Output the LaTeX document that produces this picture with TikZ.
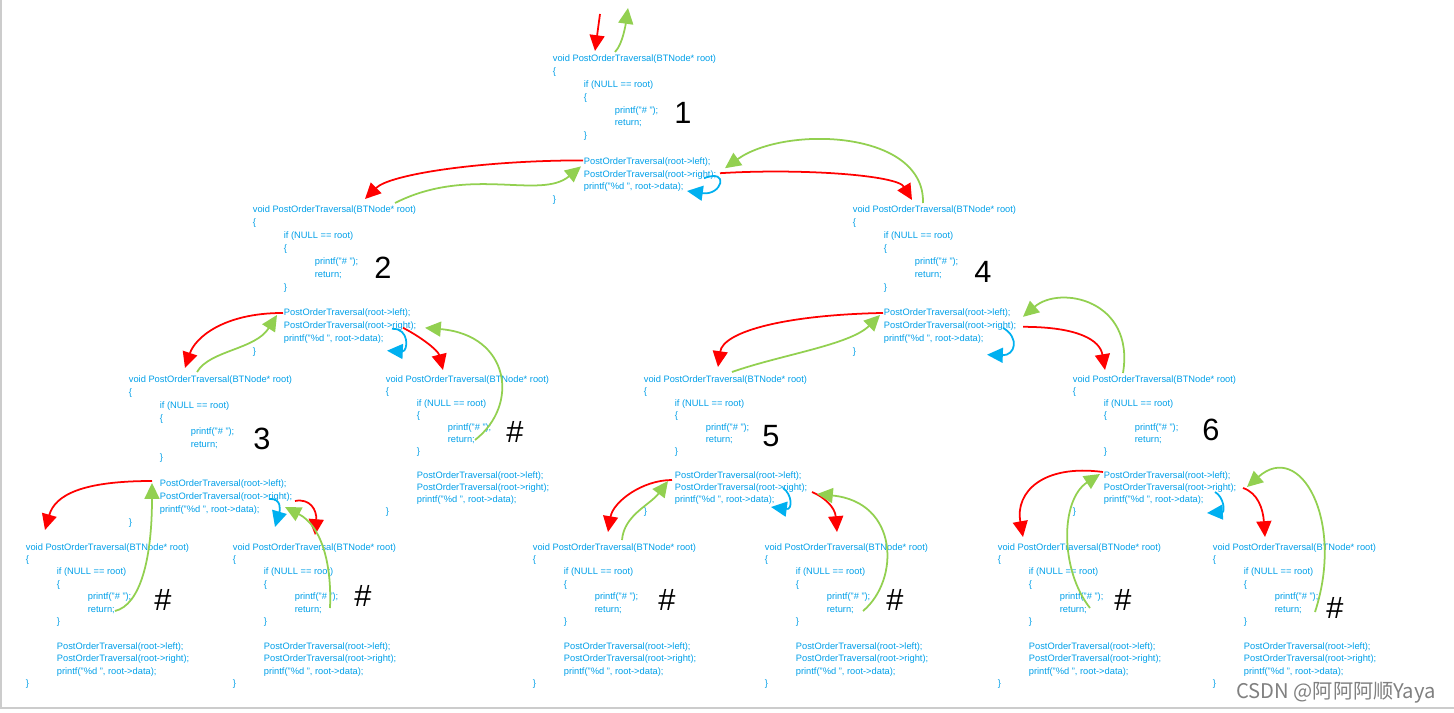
\documentclass[tikz,border=0pt]{standalone}
\usepackage{fontspec}
\setmainfont{Liberation Sans}
\newfontfamily\cjk{Noto Sans CJK SC}
\usetikzlibrary{arrows.meta,positioning}
\definecolor{codeblue}{RGB}{0,160,233}
\definecolor{callred}{RGB}{255,0,0}
\definecolor{retgreen}{RGB}{146,208,80}
\definecolor{printblue}{RGB}{0,176,240}
\tikzset{code/.style={anchor=base west, inner sep=0pt, text=codeblue,
                      font=\fontsize{5.3}{6}\selectfont},
num/.style={inner sep=0pt, font=\fontsize{17.5}{20}\selectfont},
callarr/.style={->, callred},
retarr/.style={->, retgreen},
printarr/.style={->, printblue}
}
% one call of PostOrderTraversal: name, x, y, line pitch
\newcommand{\codeblock}[4]{%
  \begin{scope}[shift={(#2,#3+3)}, yscale=#4]
    \node[code] (#1v)  at (0,0)   {void PostOrderTraversal(BTNode* root)};
    \node[code] (#1a)  at (0,1)   {\{};
    \node[code] (#1if) at (31,2)  {if (NULL == root)};
    \node[code] (#1b)  at (31,3)  {\{};
    \node[code] (#1pf) at (62,4)  {printf("\# ");};
    \node[code] (#1rt) at (62,5)  {return;};
    \node[code] (#1c)  at (31,6)  {\}};
    \node[code] (#1l)  at (31,8)  {PostOrderTraversal(root->left);};
    \node[code] (#1r)  at (31,9)  {PostOrderTraversal(root->right);};
    \node[code] (#1d)  at (31,10) {printf("\%d ", root->data);};
    \node[code] (#1e)  at (0,11)  {\}};
  \end{scope}}

\begin{document}
\begin{tikzpicture}[>={Triangle[length=9pt,width=8.5pt]}, x=0.02cm, y=-0.02cm, line width=1pt]
    \useasboundingbox (0,0) rectangle (1454,713);
    \fill[white] (0,0) rectangle (1454,713);
    \draw[gray!40, line width=0.6pt] (1,0) -- (1,708) -- (1454,708);

    \codeblock{b1}{552}{59}{12.8}
    \codeblock{b2}{252}{210}{12.87}
    \codeblock{b4}{852}{210}{12.87}
    \codeblock{b3}{128}{379}{13}
    \codeblock{bh}{385}{379}{12}
    \codeblock{b5}{643}{379}{12}
    \codeblock{b6}{1072}{379}{12}
    \codeblock{b3nl}{25}{547}{12.4}
    \codeblock{b3nr}{232}{547}{12.4}
    \codeblock{b5nl}{532}{547}{12.4}
    \codeblock{b5nr}{764}{547}{12.4}
    \codeblock{b6nl}{997}{547}{12.4}
    \codeblock{b6nr}{1212}{547}{12.4}

    \node[num] (one)   at (683,113) {1};
    \node[num] (two)   at (383,268) {2};
    \node[num] (three) at (262,439) {3};
    \node[num] (four)  at (983,272) {4};
    \node[num] (five)  at (771,436) {5};
    \node[num] (six)   at (1211,430) {6};
    \node[num] (h2)  at (515,432) {\#};
    \node[num] (h3l) at (163,600) {\#};
    \node[num] (h3r) at (363,596) {\#};
    \node[num] (h5l) at (667,600) {\#};
    \node[num] (h5r) at (895,600) {\#};
    \node[num] (h6l) at (1123,600) {\#};
    \node[num] (h6r) at (1335,608) {\#};

    \coordinate (b1in)  at (600,14);
    \coordinate (b1out) at (628,8);
    \draw[callarr] (b1in) -- ([shift={(43,-11)}]b1v.base west);
    \draw[retarr] ([shift={(63,-10)}]b1v.base west) .. controls +(8,-8) and +(-2,14) .. (b1out);

    % 1 and its children
    \draw[callarr] ([shift={(0,-4)}]b1l.base west) .. controls +(-100,0) and +(25,-25) .. ([shift={(113,-14)}]b2v.base west);
    \draw[retarr] ([shift={(143,-10)}]b2v.base west) .. controls +(75,-38) and +(-41,34) .. ([shift={(-2,2)}]b1l.base west);
    \draw[printarr] ([shift={(121,1)}]b1r.base west) .. controls +(26,-10) and +(35,5) .. ([shift={(104,1)}]b1d.base west);
    \draw[callarr] ([shift={(137,-4)}]b1r.base west) .. controls +(80,-5) and +(-15,-25) .. ([shift={(60,-13)}]b4v.base west);
    \draw[retarr] ([shift={(71,-10)}]b4v.base west) .. controls +(2,-73) and +(60,-43) .. ([shift={(142,-9)}]b1r.base west);

    % 2
    \draw[callarr] ([shift={(0,-3)}]b2l.base west) .. controls +(-60,0) and +(10,-30) .. ([shift={(57,-14)}]b3v.base west);
    \draw[retarr] ([shift={(69,-10)}]b3v.base west) .. controls +(13,-22) and +(-22,35) .. ([shift={(-6,-1)}]b2l.base west);
    \draw[printarr] ([shift={(109,0)}]b2r.base west) .. controls +(18,-1) and +(21,1) .. ([shift={(104,9)}]b2d.base west);
    \draw[callarr] ([shift={(120,-1)}]b2r.base west) .. controls +(16,8) and +(-5,-20) .. ([shift={(58,-12)}]bhv.base west);
    \draw[retarr] ([shift={(28,-2)}]bhrt.base west) .. controls +(45,-35) and +(85,7) .. ([shift={(142,-1)}]b2r.base west);

    % 4
    \draw[callarr] ([shift={(0,-3)}]b4l.base west) .. controls +(-100,2) and +(5,-35) .. ([shift={(75,-15)}]b5v.base west);
    \draw[retarr] ([shift={(89,-10)}]b5v.base west) .. controls +(48,-17) and +(-30,30) .. ([shift={(-3,-1)}]b4l.base west);
    \draw[printarr] ([shift={(120,-1)}]b4r.base west) .. controls +(17,10) and +(28,1) .. ([shift={(104,13)}]b4d.base west);
    \draw[callarr] ([shift={(140,-2)}]b4r.base west) .. controls +(55,0) and +(-5,-30) .. ([shift={(33,-12)}]b6v.base west);
    \draw[retarr] ([shift={(51,-9)}]b6v.base west) .. controls +(12,-73) and +(37,-32) .. ([shift={(140,-12)}]b4r.base west);

    % 3
    \draw[callarr] ([shift={(-7,-5)}]b3l.base west) .. controls +(-70,0) and +(10,-35) .. ([shift={(20,-20)}]b3nlv.base west);
    \draw[retarr] ([shift={(28,-1)}]b3nlrt.base west) .. controls +(25,-6) and +(0,77) .. ([shift={(-7,-3)}]b3l.base west);
    \draw[printarr] ([shift={(110,0)}]b3r.base west) .. controls +(13,-1) and +(5,-17) .. ([shift={(116,15)}]b3d.base west);
    \draw[callarr] ([shift={(136,2)}]b3r.base west) .. controls +(15,-3) and +(2,-25) .. ([shift={(83,-15)}]b3nrv.base west);
    \draw[retarr] ([shift={(36,-4)}]b3nrrt.base west) .. controls +(2,-48) and +(35,18) .. ([shift={(126,8)}]b3r.base west);

    % 5
    \draw[callarr] ([shift={(-2,2)}]b5l.base west) .. controls +(-30,0) and +(5,-30) .. ([shift={(76,-18)}]b5nlv.base west);
    \draw[retarr] ([shift={(90,-10)}]b5nlv.base west) .. controls +(2,-25) and +(-18,24) .. ([shift={(-6,3)}]b5l.base west);
    \draw[printarr] ([shift={(109,-2)}]b5r.base west) .. controls +(9,6) and +(22,3) .. ([shift={(97,5)}]b5d.base west);
    \draw[callarr] ([shift={(138,2)}]b5r.base west) .. controls +(12,5) and +(-2,-25) .. ([shift={(73,-18)}]b5nrv.base west);
    \draw[retarr] ([shift={(37,-1)}]b5nrrt.base west) .. controls +(37,-31) and +(82,8) .. ([shift={(143,4)}]b5r.base west);

    % 6
    \draw[callarr] ([shift={(0,-6)}]b6l.base west) .. controls +(-60,-8) and +(-8,-45) .. ([shift={(26,-13)}]b6nlv.base west);
    \draw[retarr] ([shift={(31,-4)}]b6nlrt.base west) .. controls +(-30,-38) and +(-40,26) .. ([shift={(-3,-4)}]b6l.base west);
    \draw[printarr] ([shift={(112,2)}]b6r.base west) .. controls +(9,5) and +(18,-1) .. ([shift={(104,11)}]b6d.base west);
    \draw[callarr] ([shift={(140,-2)}]b6r.base west) .. controls +(15,5) and +(-2,-28) .. ([shift={(53,-13)}]b6nrv.base west);
    \draw[retarr] ([shift={(41,0)}]b6nrrt.base west) .. controls +(30,-92) and +(53,-47) .. ([shift={(144,-3)}]b6r.base west);

    \node[text=gray, font=\cjk\fontsize{11.5}{13}\selectfont] (mark) at (1336,693) {CSDN @阿阿阿顺Yaya};
\end{tikzpicture}
\end{document}
